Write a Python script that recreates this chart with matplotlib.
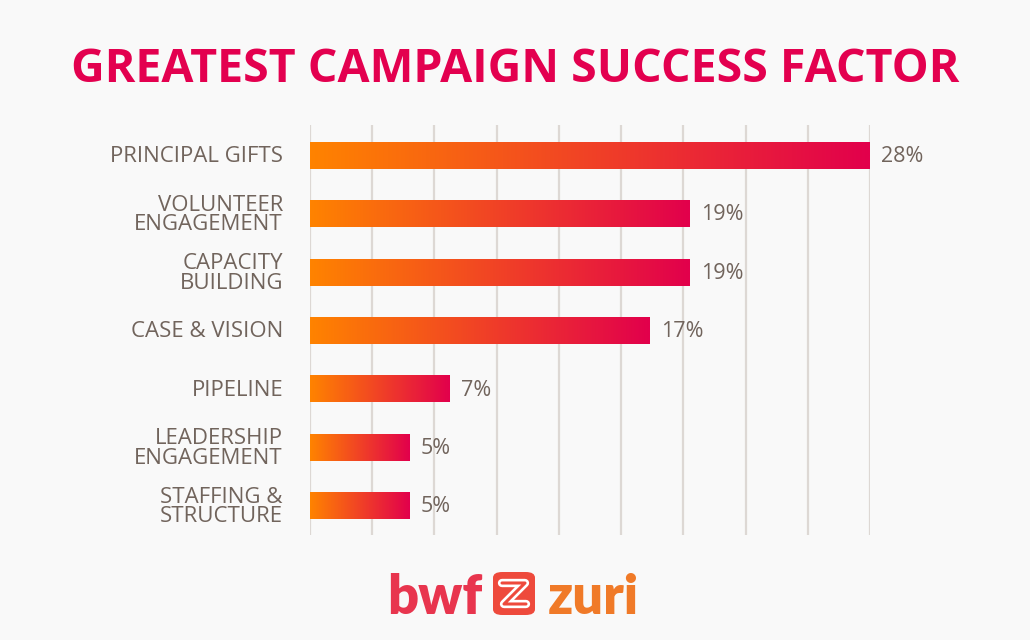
import matplotlib
matplotlib.use("Agg")
import matplotlib.pyplot as plt
import numpy as np
from matplotlib.colors import LinearSegmentedColormap
from matplotlib.patches import FancyBboxPatch

categories = ["PRINCIPAL GIFTS", "VOLUNTEER\nENGAGEMENT", "CAPACITY\nBUILDING",
              "CASE & VISION", "PIPELINE", "LEADERSHIP\nENGAGEMENT", "STAFFING &\nSTRUCTURE"]
values = [28, 19, 19, 17, 7, 5, 5]
value_labels = ["28%", "19%", "19%", "17%", "7%", "5%", "5%"]
title = "GREATEST CAMPAIGN SUCCESS FACTOR"

BG = "#F9F9F9"
GRAY = "#71645C"
RED = "#E3004F"
cmap = LinearSegmentedColormap.from_list("g", ["#FF8300", "#E2004C"])

W, H = 1030, 640
fig = plt.figure(figsize=(W / 100, H / 100), dpi=100, facecolor=BG)
ax = fig.add_axes([310 / W, 1 - 535 / H, 560 / W, 410 / H])
ax.set_facecolor(BG)

xmax = max(values)
for k in range(10):
    ax.axvline(xmax * k / 9, color="#DDD8D4", lw=1.6, zorder=0)

grad = np.linspace(0, 1, 256).reshape(1, -1)
bh = 0.46
for i, v in enumerate(values):
    ax.imshow(grad, cmap=cmap, aspect="auto", extent=[0, v, i + bh / 2, i - bh / 2],
              zorder=2, interpolation="bilinear")
    ax.text(v + 0.55, i + 0.02, value_labels[i], ha="left", va="center", fontsize=15.5,
            color=GRAY, family="Open Sans", zorder=3)
    ax.text(-1.35, i + 0.02, categories[i], ha="right", va="center", fontsize=16,
            color=GRAY, family="Open Sans", linespacing=0.93,
            multialignment="right", clip_on=False)

ax.set_xlim(0, xmax)
ax.set_ylim(len(values) - 1 + 0.5, -0.52)
ax.axis("off")

fig.text(515 / W, 1 - 69 / H, title, ha="center", va="center", fontsize=33.5,
         fontweight="bold", color=RED, family="Open Sans")

# logo
fig.text(387 / W, 1 - 614 / H, "bwf", ha="left", va="baseline", fontsize=39,
         fontweight="heavy", color="#E8354E", family="Lato")
fig.text(548 / W, 1 - 614 / H, "zuri", ha="left", va="baseline", fontsize=39,
         fontweight="heavy", color="#F07A28", family="Lato")
box = FancyBboxPatch((493 / W, 1 - 615 / H), 42 / W, 43 / H,
                     boxstyle="round,pad=0,rounding_size=0.009",
                     transform=fig.transFigure, facecolor="#EE4A3C", edgecolor="none")
fig.patches.append(box)
zx = np.array([502, 525, 504, 526]) / W
zy = 1 - np.array([583, 583, 604, 604]) / H
fig.add_artist(plt.Line2D(zx, zy, transform=fig.transFigure, color="white", lw=6,
                          solid_joinstyle="round", solid_capstyle="round"))
fig.add_artist(plt.Line2D(zx, zy, transform=fig.transFigure, color="#EE4A3C", lw=2.2,
                          solid_joinstyle="round", solid_capstyle="round"))

fig.savefig("out.png", dpi=100, facecolor=BG)
